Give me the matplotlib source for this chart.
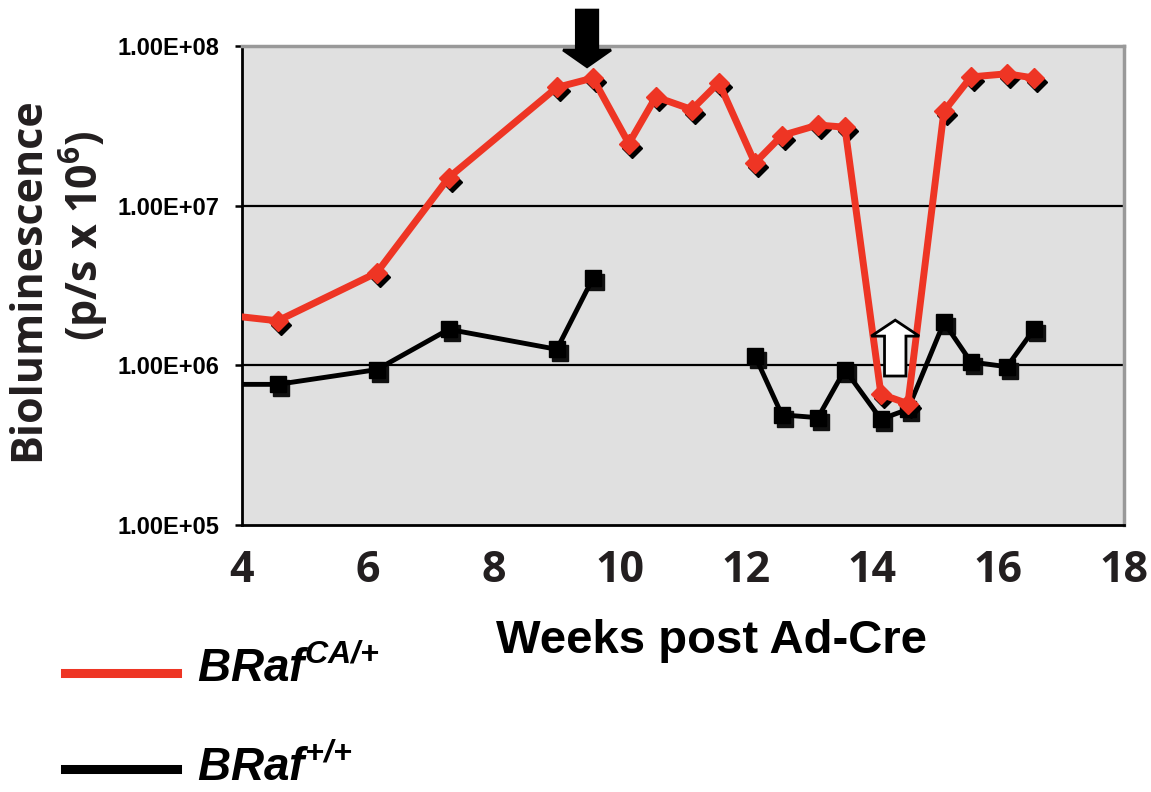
import matplotlib
matplotlib.use("Agg")
import matplotlib.pyplot as plt
import matplotlib.transforms as mtransforms
from matplotlib.lines import Line2D
from matplotlib.patches import Polygon
from matplotlib.ticker import FixedLocator, FuncFormatter
import numpy as np

plt.rcParams['mathtext.fontset'] = 'custom'
plt.rcParams['mathtext.bf'] = 'Open Sans:bold'
plt.rcParams['mathtext.bfit'] = 'Liberation Sans:italic:bold'

# days after Ad-Cre (first entry lies left of the visible axis)
days = np.array([25, 32, 43, 51, 63, 67, 71, 74, 78, 81, 85, 88, 92, 95, 99, 102, 106, 109, 113, 116])
weeks = days / 7.0

braf_ca = np.array([2.1e6, 1.9e6, 3.8e6, 1.5e7, 5.5e7, 6.3e7, 2.45e7, 4.8e7, 4.0e7, 5.9e7,
                    1.85e7, 2.75e7, 3.2e7, 3.1e7, 6.6e5, 5.75e5, 3.9e7, 6.4e7, 6.7e7, 6.3e7])
braf_wt = np.array([7.6e5, 7.6e5, 9.4e5, 1.68e6, 1.26e6, 3.5e6, np.nan, np.nan, np.nan, np.nan,
                    1.15e6, 4.9e5, 4.7e5, 9.4e5, 4.6e5, 5.3e5, 1.86e6, 1.05e6, 9.8e5, 1.68e6])

legend_labels = [r'$\mathbfit{BRaf}^{\mathbfit{CA/{+}}}$', r'$\mathbfit{BRaf}^{\mathbfit{{+}/{+}}}$']
ytick_vals = [1e5, 1e6, 1e7, 1e8]
xtick_vals = [4, 6, 8, 10, 12, 14, 16, 18]

# arrows: (week, tip value)
down_arrow = (9.48, 10 ** 7.87)
up_arrow = (14.37, 10 ** 6.283)

RED = '#EE3524'
W, H = 1151, 792

fig = plt.figure(figsize=(W / 100, H / 100), dpi=100)
ax = fig.add_axes([241.7 / W, 1 - 525 / H, (1124 - 241.7) / W, (525 - 46) / H])
ax.set_facecolor('#E0E0E0')
ax.set_yscale('log')
ax.set_xlim(4, 18)
ax.set_ylim(1e5, 1e8)

shadow = mtransforms.offset_copy(ax.transData, fig=fig, x=3, y=-4, units='dots')

# black squares series
ax.plot(weeks, braf_wt, ls='none', marker='s', ms=12, color='#111111', transform=shadow, zorder=2)
ax.plot(weeks, braf_wt, color='black', lw=3.5, marker='s', ms=12, zorder=3)

# red diamond series
ax.plot(weeks, braf_ca, ls='none', marker='D', ms=10, color='black', transform=shadow, zorder=4)
ax.plot(weeks, braf_ca, color=RED, lw=5, marker='D', ms=10, zorder=5)

for v in [1e6, 1e7]:
    ax.axhline(v, color='black', lw=1.6, zorder=1)

ax.yaxis.set_major_locator(FixedLocator(ytick_vals))
ax.yaxis.set_minor_locator(FixedLocator([]))
ax.yaxis.set_major_formatter(FuncFormatter(lambda v, p: '%.2fE+%02d' % (1.0, np.log10(v))))
ax.set_xticks(xtick_vals)
ax.tick_params(axis='y', direction='out', length=5, width=1.8, pad=11)
ax.tick_params(axis='x', length=0, pad=17)
for lab in ax.get_yticklabels():
    lab.set_fontfamily(['Liberation Sans Narrow', 'Liberation Sans'])
    lab.set_fontweight('bold')
    lab.set_fontsize(17)
for lab in ax.get_xticklabels():
    lab.set_fontfamily('Open Sans')
    lab.set_fontweight('bold')
    lab.set_fontsize(31)
    lab.set_color('#231F20')

ax.spines['left'].set_linewidth(2)
ax.spines['bottom'].set_linewidth(2)
ax.spines['top'].set_color('#999999')
ax.spines['right'].set_color('#999999')
ax.spines['top'].set_linewidth(2.5)
ax.spines['right'].set_linewidth(2.5)


def block_arrow(tip, down, head_len, shaft_len, face):
    x, y = tip
    ly = np.log10(y)
    s = 1 if down else -1
    hw, sw = 0.38, 0.17
    base = ly + s * head_len
    end = ly + s * (head_len + shaft_len)
    pts = [(x, ly), (x + hw, base), (x + sw, base), (x + sw, end),
           (x - sw, end), (x - sw, base), (x - hw, base)]
    pts = [(px, 10 ** py) for px, py in pts]
    ax.add_patch(Polygon(pts, closed=True, facecolor=face, edgecolor='black',
                         lw=2, zorder=6, clip_on=False))


block_arrow(down_arrow, True, 0.105, 0.25, 'black')
block_arrow(up_arrow, False, 0.10, 0.25, 'white')

# axis titles
fig.text(28 / W, 1 - 279 / H, 'Bioluminescence', rotation=90, ha='center', va='center',
         fontsize=31, fontweight='bold', family='Open Sans', color='#231F20')
fig.text(84 / W, 1 - 236 / H, r'(p/s x 10$^{\mathbf{6}}$)', rotation=90, ha='center', va='center',
         fontsize=31, fontweight='bold', family='Open Sans', color='#231F20')
fig.text(711 / W, 1 - 653 / H, 'Weeks post Ad-Cre', ha='center', va='baseline',
         fontsize=34, fontweight='bold', family='Liberation Sans')

# legend drawn by hand
for i, (lab, col) in enumerate(zip(legend_labels, [RED, 'black'])):
    yl = 672.7 + i * 96.5
    fig.add_artist(Line2D([65 / W, 177 / W], [1 - yl / H, 1 - yl / H], color=col, lw=6.5,
                          transform=fig.transFigure))
    fig.text(197 / W, 1 - (682 + i * 99) / H, lab, ha='left', va='baseline', fontsize=33)

fig.savefig('out.png', dpi=100)
